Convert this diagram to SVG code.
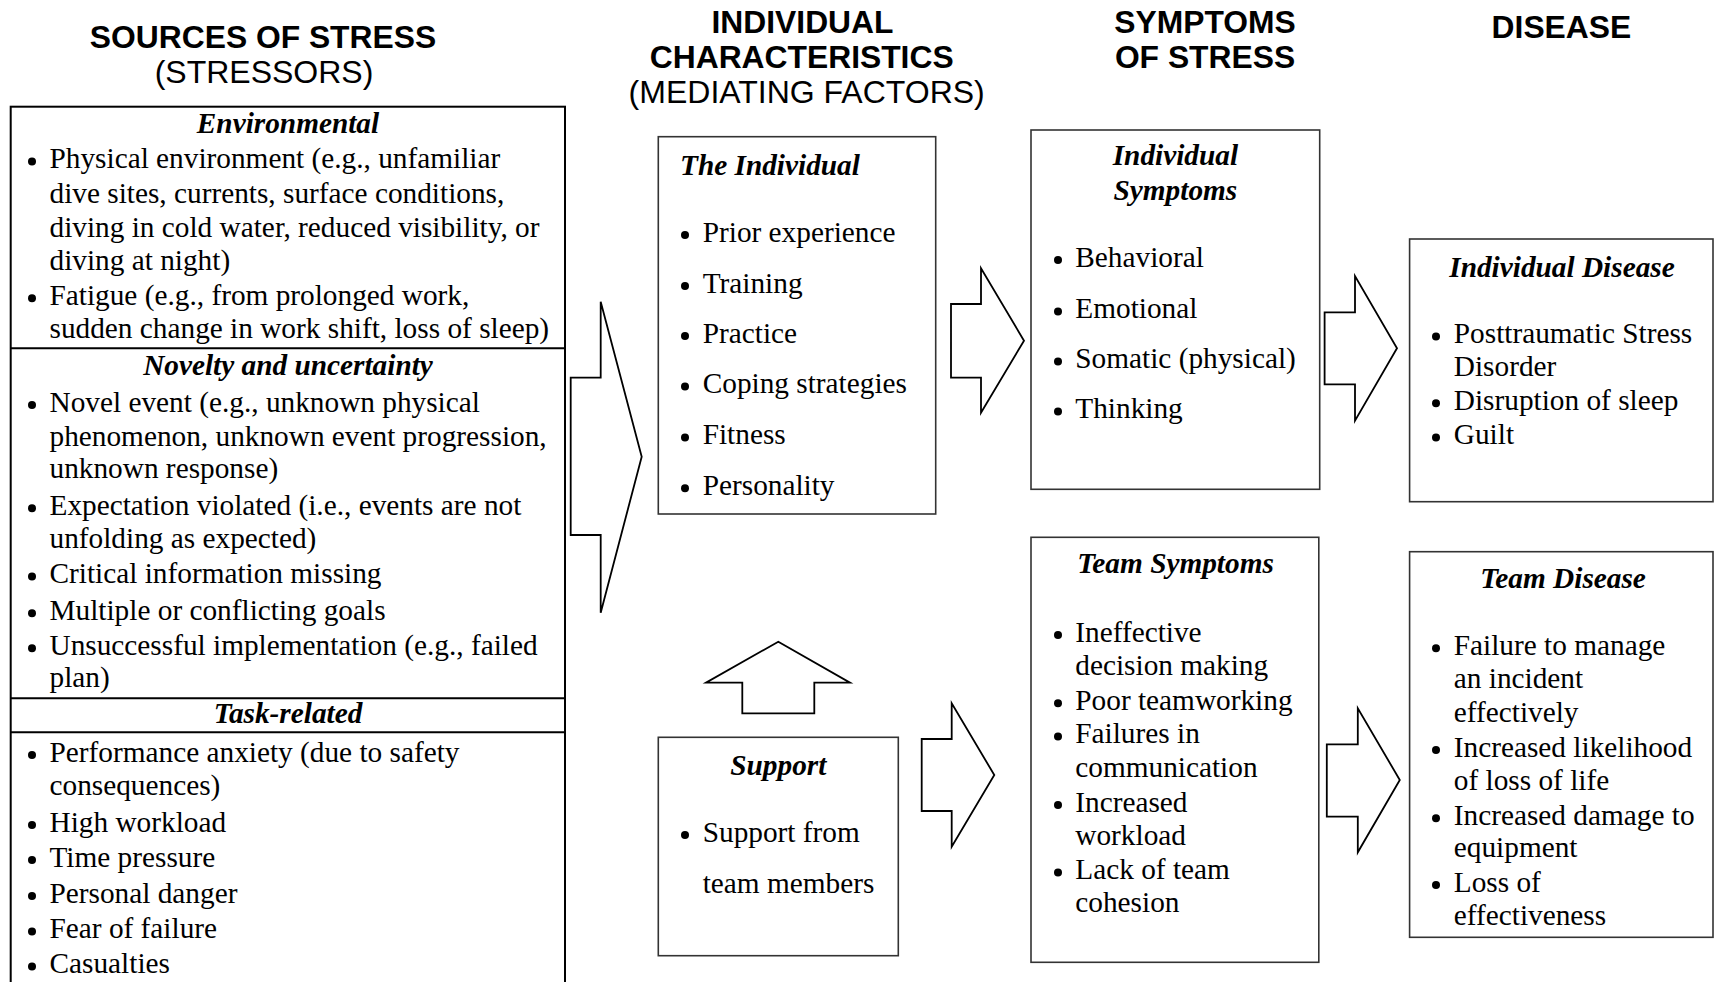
<svg xmlns="http://www.w3.org/2000/svg" width="1714" height="982" viewBox="0 0 1714 982">
  <style>
    .hd { font-family: "Liberation Sans", Arial, sans-serif; font-size: 31.8px; font-weight: bold; text-anchor: middle; fill: #000; }
    .hs { font-family: "Liberation Sans", Arial, sans-serif; font-size: 32px; text-anchor: middle; fill: #000; }
    .t { font-family: "Liberation Serif", "Times New Roman", serif; font-size: 29.3px; fill: #000; }
    .ti { font-family: "Liberation Serif", "Times New Roman", serif; font-size: 29.3px; font-weight: bold; font-style: italic; fill: #000; }
    .c { text-anchor: middle; }
    .outer { fill: none; stroke: #000; stroke-width: 2; }
    .box { fill: #fff; stroke: #333; stroke-width: 1.6; }
    .arrow { fill: #fff; stroke: #000; stroke-width: 1.8; stroke-linejoin: miter; }
    .dot { fill: #000; }
  </style>
  <rect width="1714" height="982" fill="#fff"/>

  <!-- column headings -->
  <g id="headings">
    <text class="hd" x="263" y="48.3">SOURCES OF STRESS</text>
    <text class="hs" x="264" y="83">(STRESSORS)</text>
    <text class="hd" x="802.5" y="33.3">INDIVIDUAL</text>
    <text class="hd" x="801.7" y="68.3">CHARACTERISTICS</text>
    <text class="hs" x="806.7" y="103.3">(MEDIATING FACTORS)</text>
    <text class="hd" x="1205" y="33.3">SYMPTOMS</text>
    <text class="hd" x="1205" y="68.3">OF STRESS</text>
    <text class="hd" x="1561.4" y="38.3">DISEASE</text>
  </g>

  <!-- connectors: block arrows -->
  <g id="connectors">
    <polygon class="arrow" points="570.7,377.7 600.7,377.7 600.7,301.7 641.7,456.7 600.7,612.7 600.7,535 570.7,535"/>
    <polygon class="arrow" points="951,304 981,304 981,268.3 1024,340.7 981,412.7 981,377.7 951,377.7"/>
    <polygon class="arrow" points="778.3,641.7 850,682.7 814.3,682.7 814.3,713.3 742.3,713.3 742.3,682.7 706,682.7"/>
    <polygon class="arrow" points="921.7,739 951.7,739 951.7,703.3 994.3,775 951.7,846.7 951.7,811 921.7,811"/>
    <polygon class="arrow" points="1324.6,312.3 1355,312.3 1355,276 1397,348.3 1355,420.7 1355,384.3 1324.6,384.3"/>
    <polygon class="arrow" points="1326.8,744.3 1357.8,744.3 1357.8,708.3 1399.8,780 1357.8,852.3 1357.8,816.7 1326.8,816.7"/>
  </g>

  <!-- sources of stress -->
  <g id="stressors">
    <rect class="outer" x="10.7" y="106.7" width="554.3" height="890"/>
    <line class="outer" x1="10.7" y1="348.3" x2="565" y2="348.3"/>
    <line class="outer" x1="10.7" y1="698.3" x2="565" y2="698.3"/>
    <line class="outer" x1="10.7" y1="732.3" x2="565" y2="732.3"/>

    <text class="ti c" x="288" y="133.3">Environmental</text>
    <circle class="dot" cx="32" cy="161.5" r="4"/>
    <text class="t" x="49.5" y="168.3">Physical environment (e.g., unfamiliar</text>
    <text class="t" x="49.5" y="203.3">dive sites, currents, surface conditions,</text>
    <text class="t" x="49.5" y="236.7">diving in cold water, reduced visibility, or</text>
    <text class="t" x="49.5" y="270">diving at night)</text>
    <circle class="dot" cx="32" cy="298.2" r="4"/>
    <text class="t" x="49.5" y="305">Fatigue (e.g., from prolonged work,</text>
    <text class="t" x="49.5" y="338.3">sudden change in work shift, loss of sleep)</text>

    <text class="ti c" x="288" y="375">Novelty and uncertainty</text>
    <circle class="dot" cx="32" cy="404.9" r="4"/>
    <text class="t" x="49.5" y="411.7">Novel event (e.g., unknown physical</text>
    <text class="t" x="49.5" y="446">phenomenon, unknown event progression,</text>
    <text class="t" x="49.5" y="478.3">unknown response)</text>
    <circle class="dot" cx="32" cy="508.2" r="4"/>
    <text class="t" x="49.5" y="515">Expectation violated (i.e., events are not</text>
    <text class="t" x="49.5" y="548.3">unfolding as expected)</text>
    <circle class="dot" cx="32" cy="576.5" r="4"/>
    <text class="t" x="49.5" y="583.3">Critical information missing</text>
    <circle class="dot" cx="32" cy="613.2" r="4"/>
    <text class="t" x="49.5" y="620">Multiple or conflicting goals</text>
    <circle class="dot" cx="32" cy="648.2" r="4"/>
    <text class="t" x="49.5" y="655">Unsuccessful implementation (e.g., failed</text>
    <text class="t" x="49.5" y="686.7">plan)</text>

    <text class="ti c" x="288" y="723.3">Task-related</text>
    <circle class="dot" cx="32" cy="754.9" r="4"/>
    <text class="t" x="49.5" y="761.7">Performance anxiety (due to safety</text>
    <text class="t" x="49.5" y="795">consequences)</text>
    <circle class="dot" cx="32" cy="824.9" r="4"/>
    <text class="t" x="49.5" y="831.7">High workload</text>
    <circle class="dot" cx="32" cy="859.9" r="4"/>
    <text class="t" x="49.5" y="866.7">Time pressure</text>
    <circle class="dot" cx="32" cy="895.9" r="4"/>
    <text class="t" x="49.5" y="902.7">Personal danger</text>
    <circle class="dot" cx="32" cy="931.5" r="4"/>
    <text class="t" x="49.5" y="938.3">Fear of failure</text>
    <circle class="dot" cx="32" cy="966.5" r="4"/>
    <text class="t" x="49.5" y="973.3">Casualties</text>
  </g>

  <!-- mediating factors: the individual -->
  <g id="the-individual">
    <rect class="box" x="658.3" y="136.7" width="277.4" height="377.3"/>
    <text class="ti" x="680" y="175">The Individual</text>
    <circle class="dot" cx="685" cy="234.9" r="4"/>
    <text class="t" x="702.7" y="241.7">Prior experience</text>
    <circle class="dot" cx="685" cy="285.9" r="4"/>
    <text class="t" x="702.7" y="292.7">Training</text>
    <circle class="dot" cx="685" cy="335.9" r="4"/>
    <text class="t" x="702.7" y="342.7">Practice</text>
    <circle class="dot" cx="685" cy="386.5" r="4"/>
    <text class="t" x="702.7" y="393.3">Coping strategies</text>
    <circle class="dot" cx="685" cy="437.5" r="4"/>
    <text class="t" x="702.7" y="444.3">Fitness</text>
    <circle class="dot" cx="685" cy="488.2" r="4"/>
    <text class="t" x="702.7" y="495">Personality</text>
  </g>

  <!-- mediating factors: support -->
  <g id="support">
    <rect class="box" x="658.3" y="737.3" width="240" height="218.4"/>
    <text class="ti c" x="778.3" y="775">Support</text>
    <circle class="dot" cx="685" cy="834.9" r="4"/>
    <text class="t" x="702.7" y="841.7">Support from</text>
    <text class="t" x="702.7" y="892.7">team members</text>
  </g>

  <!-- symptoms: individual -->
  <g id="individual-symptoms">
    <rect class="box" x="1031" y="130" width="288.7" height="359.3"/>
    <text class="ti c" x="1175.4" y="165">Individual</text>
    <text class="ti c" x="1175.4" y="200">Symptoms</text>
    <circle class="dot" cx="1058" cy="259.9" r="4"/>
    <text class="t" x="1075.3" y="266.7">Behavioral</text>
    <circle class="dot" cx="1058" cy="311.5" r="4"/>
    <text class="t" x="1075.3" y="318.3">Emotional</text>
    <circle class="dot" cx="1058" cy="361.5" r="4"/>
    <text class="t" x="1075.3" y="368.3">Somatic (physical)</text>
    <circle class="dot" cx="1058" cy="411.5" r="4"/>
    <text class="t" x="1075.3" y="418.3">Thinking</text>
  </g>

  <!-- symptoms: team -->
  <g id="team-symptoms">
    <rect class="box" x="1031" y="537.3" width="287.8" height="425"/>
    <text class="ti c" x="1175.5" y="573.3">Team Symptoms</text>
    <circle class="dot" cx="1058" cy="634.9" r="4"/>
    <text class="t" x="1075.3" y="641.7">Ineffective</text>
    <text class="t" x="1075.3" y="675">decision making</text>
    <circle class="dot" cx="1058" cy="703.2" r="4"/>
    <text class="t" x="1075.3" y="710">Poor teamworking</text>
    <circle class="dot" cx="1058" cy="736.5" r="4"/>
    <text class="t" x="1075.3" y="743.3">Failures in</text>
    <text class="t" x="1075.3" y="776.7">communication</text>
    <circle class="dot" cx="1058" cy="804.9" r="4"/>
    <text class="t" x="1075.3" y="811.7">Increased</text>
    <text class="t" x="1075.3" y="845">workload</text>
    <circle class="dot" cx="1058" cy="872.5" r="4"/>
    <text class="t" x="1075.3" y="879.3">Lack of team</text>
    <text class="t" x="1075.3" y="911.7">cohesion</text>
  </g>

  <!-- disease: individual -->
  <g id="individual-disease">
    <rect class="box" x="1409.6" y="239" width="303.4" height="262.7"/>
    <text class="ti c" x="1562" y="276.7">Individual Disease</text>
    <circle class="dot" cx="1436" cy="336.5" r="4"/>
    <text class="t" x="1453.8" y="343.3">Posttraumatic Stress</text>
    <text class="t" x="1453.8" y="376">Disorder</text>
    <circle class="dot" cx="1436" cy="403.2" r="4"/>
    <text class="t" x="1453.8" y="410">Disruption of sleep</text>
    <circle class="dot" cx="1436" cy="437.5" r="4"/>
    <text class="t" x="1453.8" y="444.3">Guilt</text>
  </g>

  <!-- disease: team -->
  <g id="team-disease">
    <rect class="box" x="1409.6" y="551.7" width="303.4" height="385.6"/>
    <text class="ti c" x="1563" y="588.3">Team Disease</text>
    <circle class="dot" cx="1436" cy="648.2" r="4"/>
    <text class="t" x="1453.8" y="655">Failure to manage</text>
    <text class="t" x="1453.8" y="688.3">an incident</text>
    <text class="t" x="1453.8" y="721.7">effectively</text>
    <circle class="dot" cx="1436" cy="749.9" r="4"/>
    <text class="t" x="1453.8" y="756.7">Increased likelihood</text>
    <text class="t" x="1453.8" y="790">of loss of life</text>
    <circle class="dot" cx="1436" cy="818.2" r="4"/>
    <text class="t" x="1453.8" y="825">Increased damage to</text>
    <text class="t" x="1453.8" y="856.7">equipment</text>
    <circle class="dot" cx="1436" cy="884.9" r="4"/>
    <text class="t" x="1453.8" y="891.7">Loss of</text>
    <text class="t" x="1453.8" y="925">effectiveness</text>
  </g>
</svg>
